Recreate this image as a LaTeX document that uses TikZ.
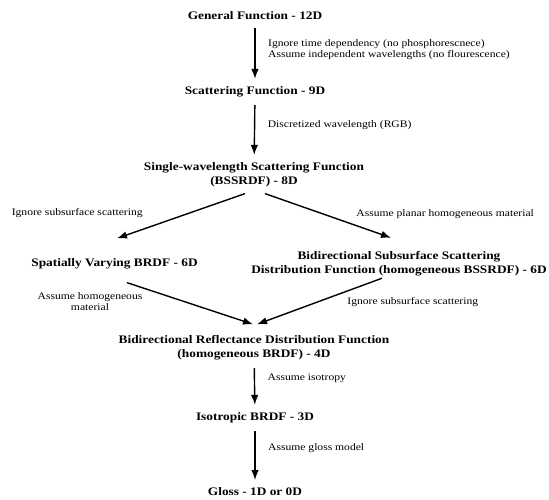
\documentclass[tikz,border=0pt]{standalone}
\usepackage{fontspec}
\setmainfont{Liberation Serif}[FakeStretch=1.16]
\usepackage{tikz}
\usetikzlibrary{positioning,arrows.meta}

\newcommand{\fnfont}{\bfseries\fontsize{11.5}{14}\selectfont}
\newcommand{\notefont}{\fontsize{10}{11}\selectfont}

\begin{document}
\begin{tikzpicture}[x=1pt,y=1pt,thick,auto,
		fn/.style={font=\fnfont,align=center,inner sep=0pt},
		note/.style={font=\notefont,align=left,inner sep=0pt},
		link/.style={->,line width=1.4pt,shorten >=7.5pt,shorten <=7.5pt},
		diag/.style={->,line width=1.4pt},
		>={Latex[length=10pt,width=7.5pt]}]
		\useasboundingbox (0,0) rectangle (549,499);

		% functions, from 12D down to 1D
		\node[fn] (general) at (255,483) {General Function - 12D};
		\node[fn] (scatter) at (255,407) {Scattering Function - 9D};
		\node[fn] (single) at (254,324) {Single-wavelength Scattering Function\\(BSSRDF) - 8D};
		\node[fn] (svbrdf) at (114.5,235) {Spatially Varying BRDF - 6D};
		\node[fn] (bssdf) at (399,235.5) {Bidirectional Subsurface Scattering\\Distribution Function (homogeneous BSSRDF) - 6D};
		\node[fn] (brdf) at (254,151) {Bidirectional Reflectance Distribution Function\\(homogeneous BRDF) - 4D};
		\node[fn] (iso) at (255,81) {Isotropic BRDF - 3D};
		\node[fn] (gloss) at (255,7) {Gloss - 1D or 0D};

		\path[link] (general) edge node[note,right=12.5pt,pos=0.44] {Ignore time dependency (no phosphorescnece)\\Assume independent wavelengths (no flourescence)} (scatter);
		\path[link] (scatter) edge node[note,right=12.5pt,pos=0.42] {Discretized wavelength (RGB)} (single);
		\path[link] (brdf) edge node[note,right=12.5pt,pos=0.34] {Assume isotropy} (iso);
		\path[link] (iso) edge node[note,right=12.5pt,pos=0.38] {Assume gloss model} (gloss);

		\draw[diag] ([shift={(-9pt,-6pt)}]single.south) -- ([shift={(2.5pt,20pt)}]svbrdf.north);
		\draw[diag] ([shift={(11pt,-6pt)}]single.south) -- ([shift={(-8pt,13pt)}]bssdf.north);
		\draw[diag] ([shift={(12.5pt,-13pt)}]svbrdf.south) -- ([shift={(-1pt,11pt)}]brdf.north);
		\draw[diag] ([shift={(-17pt,-2pt)}]bssdf.south) -- ([shift={(3pt,11pt)}]brdf.north);

		\node[note,anchor=east] (ignoreA) at (143,286) {Ignore subsurface scattering};
		\node[note,anchor=west] (planar) at (356,285) {Assume planar homogeneous material};
		\node[note,align=center] (homog) at (90,197) {Assume homogeneous\\material};
		\node[note,anchor=west] (ignoreB) at (347,197) {Ignore subsurface scattering};
	\end{tikzpicture}
\end{document}
